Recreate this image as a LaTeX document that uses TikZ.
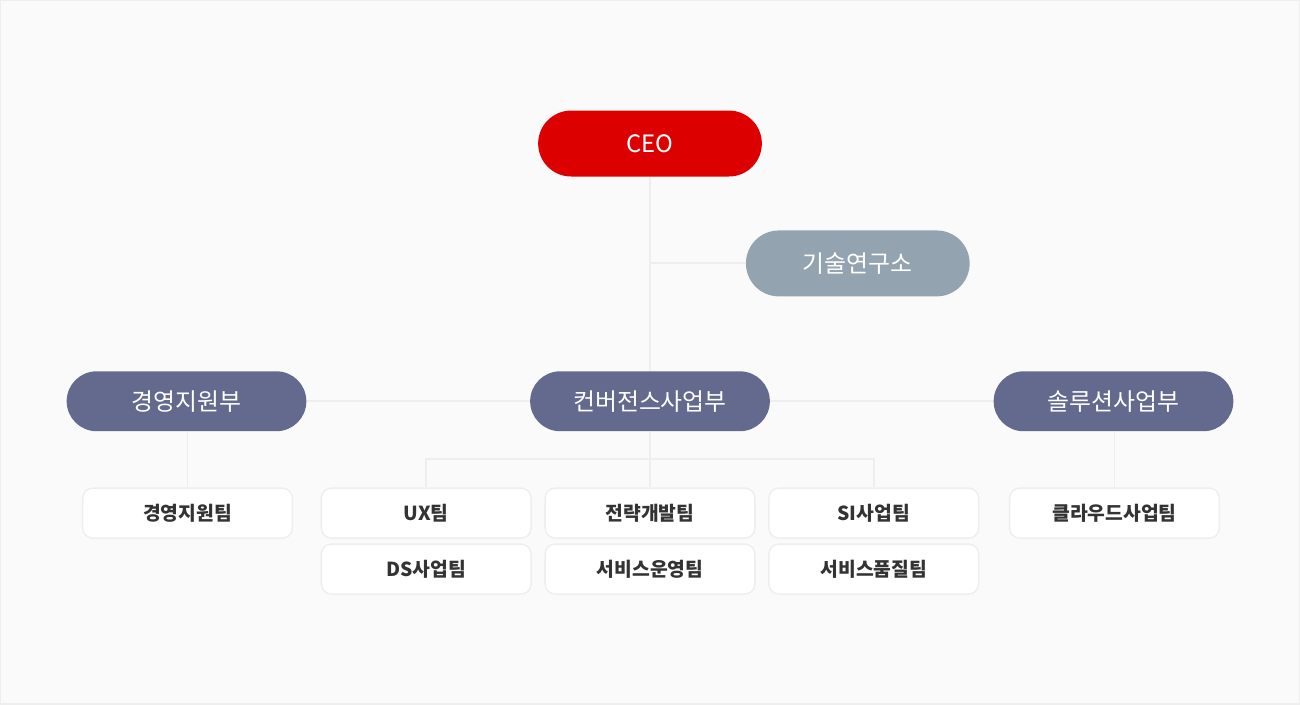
\documentclass[tikz,border=0pt]{standalone}
\usepackage{fontspec}
\setmainfont{Noto Sans CJK KR}
\usepackage{xcolor}
\definecolor{ceored}{HTML}{DD0000}
\definecolor{labgray}{HTML}{94A3B0}
\definecolor{deptblue}{HTML}{636A8E}
\definecolor{linegray}{HTML}{EEEEEE}
\definecolor{pagebg}{HTML}{FAFAFA}
\definecolor{teamtext}{HTML}{333333}

\begin{document}
\begin{tikzpicture}[
  x=0.02cm, y=-0.02cm,
  pill/.style ={rounded corners=0.6cm, minimum width=4.8cm, minimum height=1.2cm,
                text=white, font=\fontsize{13.6}{15}\selectfont, inner sep=0pt},
  top/.style  ={pill, fill=ceored, minimum width=4.48cm, minimum height=1.32cm,
                rounded corners=0.66cm},
  lab/.style  ={pill, fill=labgray, minimum width=4.48cm, minimum height=1.32cm,
                rounded corners=0.66cm},
  dept/.style ={pill, fill=deptblue},
  team/.style ={draw=linegray, line width=0.8pt, fill=white, rounded corners=0.2cm,
                minimum width=4.2cm, minimum height=1.0cm, inner sep=0pt,
                text=teamtext, font=\fontsize{11}{13}\selectfont\bfseries},
  conn/.style ={draw=linegray, line width=1.1pt},
]

% ---------------- page ----------------
\path[fill=pagebg, draw=linegray, line width=0.8pt] (0,0) rectangle (1300,704);

% ---------------- top ----------------
\node[top] (ceo) at (650,143) {CEO};
\node[lab] (rnd) at (858,263) {기술연구소};

% ---------------- departments ----------------
\node[dept] (mgmt) at (186,401) {경영지원부};
\node[dept] (conv) at (650,401) {컨버전스사업부};
\node[dept] (sol)  at (1114,401) {솔루션사업부};

% ---------------- teams ----------------
\node[team] (mgmtteam) at (187,513) {경영지원팀};
\node[team] (ux)       at (426,513) {UX팀};
\node[team] (ds)       at (426,569) {DS사업팀};
\node[team] (strat)    at (650,513) {전략개발팀};
\node[team] (svcop)    at (650,569) {서비스운영팀};
\node[team] (si)       at (874,513) {SI사업팀};
\node[team] (svcqa)    at (874,569) {서비스품질팀};
\node[team] (cloud)    at (1115,513) {클라우드사업팀};

% ---------------- connectors ----------------
\coordinate (bus) at (650,459);
\draw[conn] (ceo.south) -- (conv.north);
\draw[conn] (ceo.south |- rnd.west) -- (rnd.west);
\draw[conn] (mgmt.east) -- (conv.west);
\draw[conn] (conv.east) -- (sol.west);
\draw[conn] (mgmtteam.north) -- (mgmtteam.north |- mgmt.south);
\draw[conn] (cloud.north) -- (cloud.north |- sol.south);
\draw[conn] (conv.south) -- (bus);
\draw[conn] (ux.north) |- (bus) -| (si.north);
\draw[conn] (bus) -- (strat.north);

\end{tikzpicture}
\end{document}
